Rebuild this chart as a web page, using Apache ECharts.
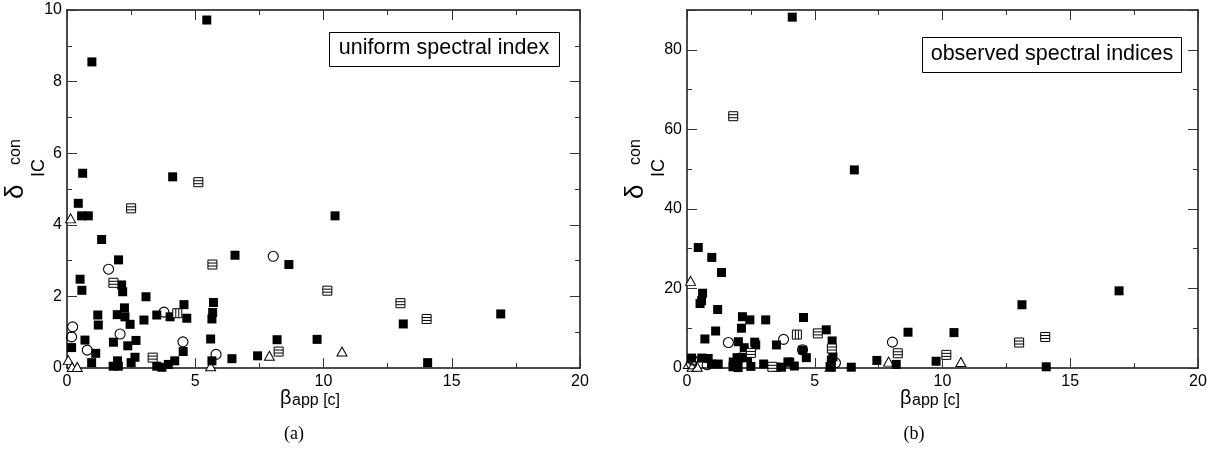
<!DOCTYPE html>
<html>
<head>
<meta charset="utf-8">
<script src="https://cdn.jsdelivr.net/npm/echarts@6/dist/echarts.min.js"></script>
<style>
html,body{margin:0;padding:0;background:#fff;}
#chart{width:1210px;height:451px;}
</style>
</head>
<body>
<div id="chart"></div>
<script>
// ---- data: beta_app [c], delta (a: uniform index), delta (b: observed indices)
const filledX = [5.45,0.97,0.61,4.12,0.44,0.57,0.83,1.35,2.01,6.55,8.65,10.45,0.51,0.58,2.13,2.17,3.08,5.71,4.56,2.24,1.20,1.96,2.26,3.50,4.02,5.68,5.65,4.67,3.00,1.22,2.46,0.70,1.81,2.69,2.37,5.60,8.19,9.75,0.18,4.53,1.12,7.43,6.43,2.65,0.96,1.80,2.00,1.97,2.50,3.50,3.70,3.95,4.20,5.65,13.11,16.91,14.06];
const filledA = [9.72,8.55,5.44,5.34,4.60,4.25,4.25,3.59,3.02,3.15,2.89,4.25,2.48,2.17,2.32,2.13,1.99,1.83,1.77,1.68,1.48,1.49,1.43,1.48,1.43,1.55,1.37,1.39,1.34,1.20,1.22,0.78,0.72,0.77,0.62,0.81,0.79,0.80,0.57,0.46,0.41,0.34,0.26,0.30,0.15,0.05,0.05,0.20,0.15,0.05,0.02,0.10,0.20,0.20,1.23,1.51,0.15];
const filledB = [9.6,27.8,18.8,88.2,30.3,16.9,2.4,24.0,6.6,49.8,9.0,8.9,16.2,2.5,10.0,12.9,12.1,2.8,12.7,5.1,14.7,2.6,2.6,5.8,1.5,6.8,2.0,2.6,1.0,1.0,12.1,7.3,1.5,5.8,2.6,0.4,0.9,1.7,2.5,4.5,9.3,1.9,0.2,6.5,1.0,0.3,0.1,0.5,0.4,0.2,0.2,1.5,0.5,0.3,15.9,19.4,0.3];

const hlineX = [5.12,2.50,5.67,10.15,1.81,8.25,3.34,13.00,14.02];
const hlineA = [5.19,4.46,2.89,2.16,2.38,0.46,0.29,1.81,1.37];
const hlineB = [8.7,3.8,4.9,3.3,63.3,3.7,0.3,6.4,7.8];

const vlineX = [4.30];
const vlineA = [1.53];
const vlineB = [8.4];

const circleX = [1.62,8.04,3.78,0.22,0.18,2.07,4.52,0.79,5.81];
const circleA = [2.76,3.12,1.56,1.15,0.87,0.95,0.73,0.50,0.38];
const circleB = [6.4,6.5,7.2,2.0,1.0,2.5,4.6,0.8,1.3];

const triX = [0.14,0.05,0.20,0.40,5.60,7.89,10.72];
const triA = [4.18,0.22,0.03,0.03,0.05,0.34,0.46];
const triB = [21.9,1.0,0.3,0.3,0.3,1.6,1.5];

const xTicks = [0, 5, 10, 15, 20];
const yTicksA = [0, 2, 4, 6, 8, 10];
const yTicksB = [0, 20, 40, 60, 80];
const panelLabels = ['(a)', '(b)'];
const boxTexts = ['uniform spectral index', 'observed spectral indices'];

// ---- styling
const SANS = '"Liberation Sans", Arial, Helvetica, sans-serif';
const SERIF = '"Liberation Serif", "Times New Roman", serif';
const LINE = {color: '#111', width: 1.5};
const TICK = {color: '#333', width: 1};

function pairs(xs, ys) { return xs.map((x, i) => [x, ys[i]]); }

function xAx(grid, pos, labels) {
  return {
    type: 'value', gridIndex: grid, position: pos, min: 0, max: 20, interval: 5,
    axisLine: {show: true, onZero: false, lineStyle: LINE},
    axisTick: {show: true, inside: true, length: 10, lineStyle: TICK},
    minorTick: {show: true, splitNumber: 2, length: 5, lineStyle: TICK},
    splitLine: {show: false}, minorSplitLine: {show: false},
    axisLabel: {show: labels, margin: 6, color: '#000', fontFamily: SANS, fontSize: 16,
      formatter: v => xTicks.includes(v) ? String(v) : ''}
  };
}
function yAxA(pos, labels) {
  return {
    type: 'value', gridIndex: 0, position: pos, min: 0, max: 10, interval: 2,
    axisLine: {show: true, onZero: false, lineStyle: LINE},
    axisTick: {show: true, inside: true, length: 10, lineStyle: TICK},
    minorTick: {show: true, splitNumber: 2, length: 5, lineStyle: TICK},
    splitLine: {show: false}, minorSplitLine: {show: false},
    axisLabel: {show: labels, margin: 5, color: '#000', fontFamily: SANS, fontSize: 16,
      formatter: v => yTicksA.includes(v) ? String(v) : ''}
  };
}
function yAxB(pos, step, len, labels, line) {
  return {
    type: 'value', gridIndex: 1, position: pos, min: 0, max: 90, interval: step,
    axisLine: {show: line, onZero: false, lineStyle: LINE},
    axisTick: {show: true, inside: true, length: len, lineStyle: TICK},
    splitLine: {show: false},
    axisLabel: {show: labels, margin: 5, color: '#000', fontFamily: SANS, fontSize: 16,
      formatter: v => yTicksB.includes(v) ? String(v) : ''}
  };
}

const HBOX = 'path://M0,0H10V10H0Z M0,3.33H10 M0,6.67H10';
const VBOX = 'path://M0,0H10V10H0Z M3.33,0V10 M6.67,0V10';

function seriesFor(xi, yi, which) {
  const pick = (a, b) => which === 0 ? a : b;
  return [
    {type: 'scatter', xAxisIndex: xi, yAxisIndex: yi, data: pairs(triX, pick(triA, triB)),
     symbol: 'triangle', symbolSize: [10, 9], itemStyle: {color: '#fff', borderColor: '#000', borderWidth: 1, opacity: 1}},
    {type: 'scatter', xAxisIndex: xi, yAxisIndex: yi, data: pairs(circleX, pick(circleA, circleB)),
     symbol: 'circle', symbolSize: 10, itemStyle: {color: 'rgba(255,255,255,0)', borderColor: '#000', borderWidth: 1.1, opacity: 1}},
    {type: 'scatter', xAxisIndex: xi, yAxisIndex: yi, data: pairs(filledX, pick(filledA, filledB)),
     symbol: 'rect', symbolSize: 9, itemStyle: {color: '#000', borderColor: '#000', borderWidth: 0, opacity: 1}},
    {type: 'scatter', xAxisIndex: xi, yAxisIndex: yi, data: pairs(hlineX, pick(hlineA, hlineB)),
     symbol: HBOX, symbolSize: 9, itemStyle: {color: '#fff', borderColor: '#000', borderWidth: 1, opacity: 1}},
    {type: 'scatter', xAxisIndex: xi, yAxisIndex: yi, data: pairs(vlineX, pick(vlineA, vlineB)),
     symbol: VBOX, symbolSize: 9, itemStyle: {color: '#fff', borderColor: '#000', borderWidth: 1, opacity: 1}}
  ];
}

function mid(baseline, size) { return baseline - 0.3465 * size; }

function yTitle(ox) {
  return {
    type: 'group', x: ox, y: 200, rotation: Math.PI / 2, silent: true,
    children: [
      {type: 'text', x: 1, y: mid(25, 26), style: {text: 'δ', font: '26px ' + SANS, fill: '#000', textAlign: 'left', textVerticalAlign: 'middle'}},
      {type: 'text', x: 23, y: mid(45, 18), style: {text: 'IC', font: '18px ' + SANS, fill: '#000', textAlign: 'left', textVerticalAlign: 'middle'}},
      {type: 'text', x: 35, y: mid(21, 16), style: {text: 'con', font: '16px ' + SANS, fill: '#000', textAlign: 'left', textVerticalAlign: 'middle'}}
    ]
  };
}
function xTitle(ox) {
  return {
    type: 'group', x: ox, y: 0, silent: true,
    children: [
      {type: 'text', x: 280, y: mid(405.5, 20), style: {text: 'β', font: '20px ' + SANS, fill: '#000', textAlign: 'left', textVerticalAlign: 'middle'}},
      {type: 'text', x: 292, y: mid(406.5, 16), style: {text: 'app [c]', font: '16px ' + SANS, fill: '#000', textAlign: 'left', textVerticalAlign: 'middle'}}
    ]
  };
}

const chart = echarts.init(document.getElementById('chart'), null, {renderer: 'canvas'});
chart.setOption({
  animation: false,
  backgroundColor: '#fff',
  grid: [
    {left: 67, top: 10, width: 513, height: 358},
    {left: 687, top: 10, width: 511, height: 358}
  ],
  xAxis: [xAx(0, 'bottom', true), xAx(0, 'top', false), xAx(1, 'bottom', true), xAx(1, 'top', false)],
  yAxis: [
    yAxA('left', true), yAxA('right', false),
    yAxB('left', 10, 5, true, true), yAxB('left', 20, 10, false, false),
    yAxB('right', 10, 5, false, true), yAxB('right', 20, 10, false, false)
  ],
  series: [].concat(seriesFor(0, 0, 0), seriesFor(2, 2, 1)),
  graphic: [
    yTitle(0), yTitle(620), xTitle(0), xTitle(620),
    {type: 'text', x: 294, y: 434, silent: true, style: {text: panelLabels[0], font: '18px ' + SERIF, fill: '#000', textAlign: 'center', textVerticalAlign: 'middle'}},
    {type: 'text', x: 914, y: 434, silent: true, style: {text: panelLabels[1], font: '18px ' + SERIF, fill: '#000', textAlign: 'center', textVerticalAlign: 'middle'}},
    {type: 'rect', silent: true, shape: {x: 329.5, y: 32.5, width: 230, height: 34}, style: {fill: '#fff', stroke: '#000', lineWidth: 1}, z: 10},
    {type: 'text', silent: true, x: 444, y: 48, z: 11, style: {text: boxTexts[0], font: '21.5px ' + SANS, fill: '#000', textAlign: 'center', textVerticalAlign: 'middle'}},
    {type: 'rect', silent: true, shape: {x: 922.5, y: 37.5, width: 259, height: 35}, style: {fill: '#fff', stroke: '#000', lineWidth: 1}, z: 10},
    {type: 'text', silent: true, x: 1052, y: 54.5, z: 11, style: {text: boxTexts[1], font: '21.5px ' + SANS, fill: '#000', textAlign: 'center', textVerticalAlign: 'middle'}}
  ]
});
</script>
</body>
</html>
